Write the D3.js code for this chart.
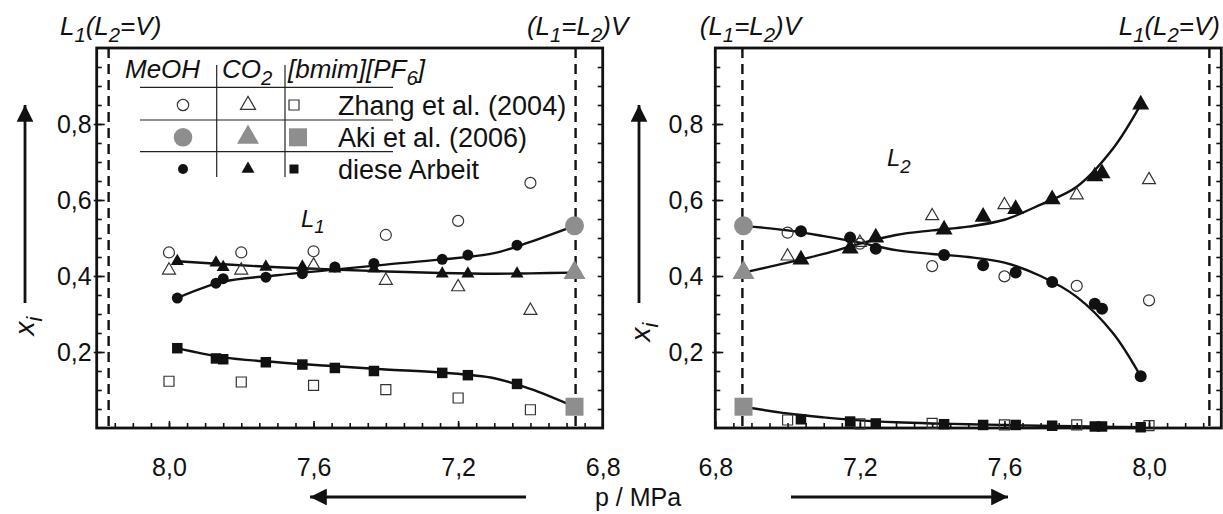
<!DOCTYPE html>
<html><head><meta charset="utf-8">
<script src="https://cdn.jsdelivr.net/npm/d3@7"></script>
<style>
body{margin:0;background:#fff}
svg{display:block}
text{font-family:"Liberation Sans",Arial,sans-serif;fill:#111}
</style>
</head><body>
<svg id="c" width="1223" height="514"></svg>
<script>
// ---------- data ----------
const pressZhang = [7.0, 7.2, 7.4, 7.6, 7.8, 8.0];
const zhangL1MeOH = [0.645, 0.545, 0.508, 0.465, 0.462, 0.462];
const zhangL1CO2  = [0.309, 0.371, 0.388, 0.428, 0.415, 0.415];
const zhangL1IL   = [0.048, 0.079, 0.101, 0.112, 0.121, 0.123];
const zhangL2MeOH = [0.514, 0.485, 0.426, 0.399, 0.374, 0.336];
const zhangL2CO2  = [0.452, 0.488, 0.558, 0.587, 0.613, 0.653];
const zhangL2IL   = [0.021, 0.011, 0.012, 0.008, 0.008, 0.006];

const pressAki = [6.878];
const akiMeOH = [0.532];
const akiCO2  = [0.409];
const akiIL   = [0.056];

const pressThis = [7.037, 7.173, 7.244, 7.433, 7.541, 7.631, 7.732, 7.850, 7.870, 7.977];
const thisL1MeOH = [0.481, 0.455, 0.444, 0.433, 0.424, 0.406, 0.397, 0.393, 0.381, 0.342];
const thisL1CO2  = [0.406, 0.406, 0.406, 0.419, 0.419, 0.424, 0.424, 0.423, 0.435, 0.439];
const thisL1IL   = [0.116, 0.139, 0.145, 0.150, 0.158, 0.167, 0.173, 0.181, 0.183, 0.210];
const thisL2MeOH = [0.518, 0.501, 0.472, 0.455, 0.428, 0.409, 0.384, 0.327, 0.314, 0.136];
const thisL2CO2  = [0.443, 0.472, 0.501, 0.522, 0.556, 0.576, 0.602, 0.662, 0.670, 0.851];
const thisL2IL   = [0.023, 0.017, 0.012, 0.010, 0.008, 0.008, 0.006, 0.004, 0.004, 0.002];

// smooth fit curves
const fitPL1 = [6.878, 7.0, 7.1, 7.25, 7.4, 7.55, 7.7, 7.85, 7.977];
const fitL1MeOH = [0.532, 0.490, 0.460, 0.443, 0.430, 0.416, 0.402, 0.385, 0.342];
const fitL1CO2  = [0.409, 0.407, 0.406, 0.408, 0.412, 0.417, 0.423, 0.431, 0.439];
const fitL1IL   = [0.056, 0.103, 0.131, 0.146, 0.154, 0.163, 0.173, 0.186, 0.210];
const fitPL2 = [6.878, 7.0, 7.1, 7.2, 7.3, 7.4, 7.5, 7.6, 7.7, 7.8, 7.9, 7.977];
const fitL2MeOH = [0.532, 0.520, 0.505, 0.488, 0.468, 0.458, 0.450, 0.435, 0.400, 0.345, 0.250, 0.136];
const fitL2CO2  = [0.409, 0.435, 0.458, 0.485, 0.508, 0.520, 0.530, 0.548, 0.588, 0.635, 0.735, 0.851];
const fitL2IL   = [0.056, 0.038, 0.028, 0.020, 0.015, 0.012, 0.010, 0.008, 0.006, 0.005, 0.003, 0.002];

const dashedP = [6.875, 8.167];
const yTickLabels = [0.2, 0.4, 0.6, 0.8];
const xTickLabels = [6.8, 7.2, 7.6, 8.0];
const legendHeads = [["MeOH", ""], ["CO", "2"], ["[bmim][PF", "6", "]"]];
const legendRows = ["Zhang et al. (2004)", "Aki et al. (2006)", "diese Arbeit"];

// ---------- setup ----------
const svg = d3.select("#c");
const yTop = 48, yBot = 428;
const y = d3.scaleLinear().domain([0, 1]).range([yBot, yTop]);
const xL = d3.scaleLinear().domain([8.2, 6.8]).range([96.7, 602.7]);
const xR = d3.scaleLinear().domain([6.8, 8.2]).range([715.3, 1221.3]);
const fmt = d => d3.format(".1f")(d).replace(".", ",");
const GRAY = "#8e8e8e";
const zip = (a, b) => a.map((v, i) => [v, b[i]]);

function sym(type, w) {
  let t, s;
  if (type === "c") { t = d3.symbolCircle; s = Math.PI * (w / 2) * (w / 2); }
  else if (type === "t") { t = d3.symbolTriangle; s = Math.sqrt(3) / 4 * w * w; }
  else { t = d3.symbolSquare; s = w * w; }
  return d3.symbol().type(t).size(s)();
}

function panel(x, opts) {
  const g = svg.append("g");
  const [x0, x1] = x.range();
  g.selectAll("line.dash").data(dashedP).join("line")
    .attr("x1", d => x(d)).attr("x2", d => x(d))
    .attr("y1", yTop).attr("y2", yBot)
    .attr("stroke", "#111").attr("stroke-width", 2.4).attr("stroke-dasharray", "10,6");
  const minorY = d3.range(0.05, 0.999, 0.05);
  const minorX = d3.range(6.85, 8.199, 0.05);
  const ax = (a) => a.tickFormat("");
  g.append("g").attr("transform", `translate(${x0},0)`).call(ax(d3.axisLeft(y).tickValues(minorY).tickSize(-5)));
  g.append("g").attr("transform", `translate(${x1},0)`).call(ax(d3.axisRight(y).tickValues(minorY).tickSize(-5)));
  g.append("g").attr("transform", `translate(${x0},0)`).call(ax(d3.axisLeft(y).tickValues(yTickLabels).tickSize(3)));
  g.append("g").attr("transform", `translate(${x0},0)`)
    .call(d3.axisLeft(y).tickValues(yTickLabels).tickSizeInner(-8).tickSizeOuter(0).tickPadding(opts.yPad).tickFormat(fmt));
  g.append("g").attr("transform", `translate(0,${yBot})`).call(ax(d3.axisBottom(x).tickValues(minorX).tickSize(-5)));
  g.append("g").attr("transform", `translate(0,${yBot})`)
    .call(d3.axisBottom(x).tickValues(xTickLabels).tickSizeInner(-7).tickSizeOuter(0).tickPadding(30).tickFormat(fmt));
  g.selectAll(".domain").remove();
  g.selectAll(".tick line").attr("stroke", "#111").attr("stroke-width", 1.6);
  g.selectAll(".tick text").attr("font-size", 25).attr("fill", "#111");
  g.append("rect").attr("x", x0).attr("y", yTop).attr("width", x1 - x0).attr("height", yBot - yTop)
    .attr("fill", "none").attr("stroke", "#111").attr("stroke-width", 2.8);
  const line = d3.line().x(d => x(d[0])).y(d => y(d[1])).curve(d3.curveCatmullRom.alpha(0.5));
  g.selectAll("path.fit").data(opts.fits).join("path")
    .attr("d", d => line(d)).attr("fill", "none").attr("stroke", "#111").attr("stroke-width", 2.4);
  const put = (pts, shape, w, fill, stroke, sw) => g.append("g").selectAll("path").data(pts).join("path")
    .attr("transform", d => `translate(${x(d[0])},${y(d[1])})`)
    .attr("d", sym(shape, w)).attr("fill", fill).attr("stroke", stroke).attr("stroke-width", sw);
  put(zip(pressZhang, opts.zMeOH), "c", 11, "none", "#333", 1.2);
  put(zip(pressZhang, opts.zCO2), "t", 13, "none", "#333", 1.2);
  put(zip(pressZhang, opts.zIL), "s", 10, "none", "#333", 1.2);
  put(zip(pressThis, opts.tMeOH), "c", opts.cw, "#111", "none", 0);
  put(zip(pressThis, opts.tCO2), "t", opts.tw, "#111", "none", 0);
  put(zip(pressThis, opts.tIL), "s", 10.5, "#111", "none", 0);
  put(zip(pressAki, akiMeOH), "c", 19, GRAY, "none", 0);
  put(zip(pressAki, akiCO2), "t", 22, GRAY, "none", 0);
  put(zip(pressAki, akiIL), "s", 18, GRAY, "none", 0);
  return g;
}

panel(xL, {
  yPad: 5, cw: 11, tw: 13,
  fits: [zip(fitPL1, fitL1MeOH), zip(fitPL1, fitL1CO2), zip(fitPL1, fitL1IL)],
  zMeOH: zhangL1MeOH, zCO2: zhangL1CO2, zIL: zhangL1IL,
  tMeOH: thisL1MeOH, tCO2: thisL1CO2, tIL: thisL1IL
});
panel(xR, {
  yPad: 12, cw: 12, tw: 17,
  fits: [zip(fitPL2, fitL2MeOH), zip(fitPL2, fitL2CO2), zip(fitPL2, fitL2IL)],
  zMeOH: zhangL2MeOH, zCO2: zhangL2CO2, zIL: zhangL2IL,
  tMeOH: thisL2MeOH, tCO2: thisL2CO2, tIL: thisL2IL
});

// ---------- text helpers ----------
function subText(g, x, yb, parts, size, anchor, italic) {
  const t = g.append("text").attr("x", x).attr("y", yb).attr("font-size", size)
    .attr("text-anchor", anchor || "start").attr("font-style", italic ? "italic" : "normal");
  let sub = false;
  parts.forEach(([s, isSub]) => {
    const ts = t.append("tspan").text(s);
    if (isSub && !sub) { ts.attr("dy", size * 0.28).attr("font-size", size * 0.78); sub = true; }
    else if (!isSub && sub) { ts.attr("dy", -size * 0.28); sub = false; }
    else if (isSub) ts.attr("font-size", size * 0.78);
  });
  return t;
}
const lblA = [["L", 0], ["1", 1], ["(L", 0], ["2", 1], ["=V)", 0]];
const lblB = [["(L", 0], ["1", 1], ["=L", 0], ["2", 1], [")V", 0]];
subText(svg, xL(dashedP[1]) + 2, 35, lblA, 26, "middle", true);
subText(svg, xL(dashedP[0]) + 2, 35, lblB, 26, "middle", true);
subText(svg, xR(dashedP[0]) + 8, 35, lblB, 26, "middle", true);
subText(svg, 1220, 35, lblA, 26, "end", true);

subText(svg, xL(7.635), y(0.53), [["L", 0], ["1", 1]], 24, "start", true);
subText(svg, xR(7.275), y(0.69), [["L", 0], ["2", 1]], 24, "start", true);

const defs = svg.append("defs");
defs.append("marker").attr("id", "ah").attr("viewBox", "0 0 10 10").attr("refX", 10).attr("refY", 5)
  .attr("markerWidth", 7).attr("markerHeight", 6).attr("markerUnits", "strokeWidth").attr("orient", "auto")
  .append("path").attr("d", "M0,0 L10,5 L0,10 z").attr("fill", "#111");
function arrow(x1, y1, x2, y2) {
  svg.append("line").attr("x1", x1).attr("y1", y1).attr("x2", x2).attr("y2", y2)
    .attr("stroke", "#111").attr("stroke-width", 2.8).attr("marker-end", "url(#ah)");
}
arrow(25, 303, 25, 105);
arrow(639, 303, 639, 105);
[[34, 326], [650, 332]].forEach(([px, py]) => {
  const g = svg.append("g").attr("transform", `translate(${px},${py}) rotate(-90)`);
  subText(g, 0, 0, [["x", 0], ["i", 1]], 28, "middle", true);
});

svg.append("text").attr("x", 638).attr("y", 506).attr("font-size", 25).attr("text-anchor", "middle").text("p / MPa");
arrow(526, 497, 310, 497);
arrow(791, 497, 1008, 497);

// ---------- legend ----------
const lg = svg.append("g");
const colX = [183, 248, 294];
const rowY = [105, 137.3, 169];
const hx = [125, 222, 288];
legendHeads.forEach((h, i) => {
  const parts = [[h[0], 0]];
  if (h[1]) parts.push([h[1], 1]);
  if (h[2]) parts.push([h[2], 0]);
  subText(lg, hx[i], 78, parts, 26, "start", true);
});
[87.3, 120, 151.7].forEach(v => lg.append("line").attr("x1", 140).attr("x2", 393).attr("y1", v).attr("y2", v)
  .attr("stroke", "#222").attr("stroke-width", 1.2));
[216.7, 285].forEach(v => lg.append("line").attr("x1", v).attr("x2", v).attr("y1", 65).attr("y2", 177)
  .attr("stroke", "#222").attr("stroke-width", 1.2));
const legSyms = [
  [["c", 11.4], ["t", 15], ["s", 10]],
  [["c", 18.6], ["t", 22], ["s", 18]],
  [["c", 10], ["t", 13], ["s", 9]]
];
legSyms.forEach((row, r) => row.forEach(([shape, w], c) => {
  const style = r === 0 ? ["#fff", "#333", 1.2] : r === 1 ? [GRAY, "none", 0] : ["#111", "none", 0];
  lg.append("path").attr("transform", `translate(${colX[c] + (c === 2 && r === 1 ? 4 : 0)},${rowY[r]})`)
    .attr("d", sym(shape, w)).attr("fill", style[0]).attr("stroke", style[1]).attr("stroke-width", style[2]);
}));
legendRows.forEach((t, i) => lg.append("text").attr("x", 338).attr("y", rowY[i] + 9.5)
  .attr("font-size", 27).text(t));
</script>
</body></html>
